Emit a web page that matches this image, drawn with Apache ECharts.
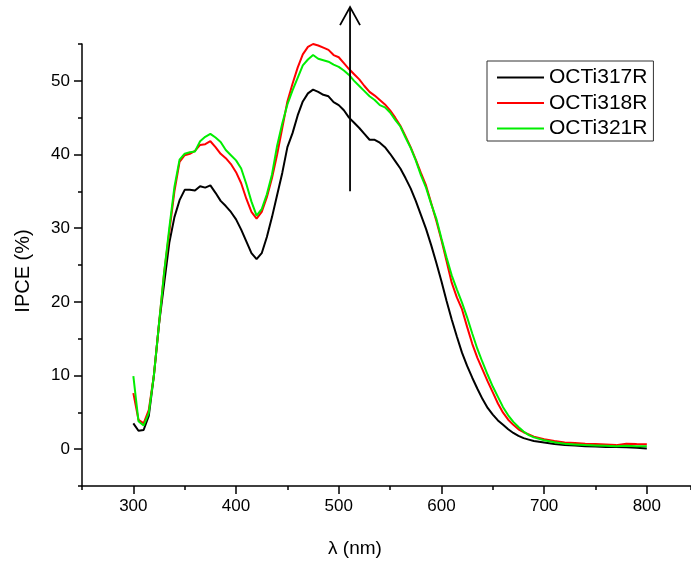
<!DOCTYPE html>
<html>
<head>
<meta charset="utf-8">
<script src="https://cdn.jsdelivr.net/npm/echarts@6/dist/echarts.min.js"></script>
<style>html,body{margin:0;padding:0;background:#fff;}#c{width:691px;height:561px;}</style>
</head>
<body>
<div id="c"></div>
<script>
// wavelength (nm)
const wavelengths = [300,305,310,315,320,325,330,335,340,345,350,355,360,365,370,375,380,385,390,395,400,405,410,415,420,425,430,435,440,445,450,455,460,465,470,475,480,485,490,495,500,505,510,515,520,525,530,535,540,545,550,555,560,565,570,575,580,585,590,595,600,605,610,615,620,625,630,635,640,645,650,655,660,665,670,675,680,685,690,700,710,720,730,740,750,760,770,780,790,800];
const ipce317 = [3.5,2.5,2.6,4.5,10,17,22.5,28,31.5,33.8,35.2,35.2,35.1,35.7,35.5,35.8,34.8,33.7,33.0,32.2,31.2,29.8,28.2,26.6,25.8,26.6,28.8,31.5,34.5,37.5,41,42.9,45.3,47.2,48.3,48.8,48.5,48.1,47.9,47.1,46.7,46.0,45.0,44.3,43.6,42.8,42.0,42.0,41.6,41.0,40.1,39.1,38.1,36.8,35.4,33.7,31.8,29.9,27.7,25.3,22.8,20.1,17.6,15.3,13.1,11.3,9.7,8.2,6.8,5.6,4.7,3.9,3.3,2.7,2.2,1.8,1.5,1.3,1.1,0.9,0.7,0.55,0.5,0.4,0.35,0.3,0.3,0.25,0.2,0.1];
const ipce318 = [7.6,4.0,3.5,5.3,10,17,24,29.5,35,39,39.9,40.1,40.5,41.3,41.4,41.8,41.0,40.1,39.5,38.7,37.6,36.1,34.0,32.2,31.3,32.2,34.2,36.8,40.0,43.6,47.2,49.6,51.8,53.6,54.6,55.0,54.8,54.5,54.2,53.5,53.2,52.4,51.6,50.9,50.2,49.3,48.5,48.0,47.4,46.8,46.0,45.0,43.9,42.5,41.0,39.3,37.5,35.8,33.4,31.0,28.4,25.5,22.6,20.6,19.0,16.6,14.3,12.4,10.8,9.2,7.7,6.2,4.95,4.0,3.3,2.7,2.3,2.0,1.7,1.35,1.1,0.9,0.85,0.75,0.7,0.65,0.55,0.75,0.7,0.68];
const ipce321 = [9.9,3.8,3.2,4.9,10,17,24,30,35.6,39.3,40.1,40.3,40.4,41.8,42.4,42.8,42.3,41.7,40.6,39.9,39.2,38.1,36.0,33.6,31.7,32.6,34.6,37.3,41.2,44.2,46.8,48.7,50.4,52.1,52.9,53.5,53.0,52.8,52.6,52.2,51.9,51.4,50.8,50.0,49.3,48.6,47.9,47.4,46.7,46.4,45.7,44.7,43.8,42.3,40.9,39.2,37.2,35.5,33.3,31.3,28.6,26.0,23.6,21.7,19.9,17.9,15.7,13.6,11.8,10.1,8.5,7.1,5.7,4.6,3.7,3.0,2.4,1.9,1.6,1.2,0.95,0.75,0.65,0.55,0.5,0.45,0.4,0.45,0.4,0.4];
const seriesNames = ['OCTi317R','OCTi318R','OCTi321R'];
const seriesColors = ['#000000','#ff0000','#00ee00'];
const xTickLabels = [300,400,500,600,700,800];
const yTickLabels = [0,10,20,30,40,50];
const arrowX = 511, arrowFrom = 35, arrowTo = 60;

const FONT = '"Liberation Sans", Arial, sans-serif';
const chart = echarts.init(document.getElementById('c'), null, {renderer:'canvas'});
const allY = [ipce317, ipce318, ipce321];
const series = seriesNames.map((n, i) => ({
  name: n, type: 'line', xAxisIndex: 0, yAxisIndex: 0,
  data: wavelengths.map((w, j) => [w, allY[i][j]]),
  symbol: 'none', showSymbol: false, smooth: false,
  lineStyle: {color: seriesColors[i], width: 2},
  itemStyle: {color: seriesColors[i]},
  z: 3 + i
}));
const axLine = {show: true, onZero: false, lineStyle: {color: '#000', width: 1.5}};
chart.setOption({
  animation: false,
  backgroundColor: '#fff',
  grid: {left: 82, right: 0, top: 44, bottom: 75, containLabel: false},
  xAxis: [{
    type: 'value', min: 250, max: 843, position: 'bottom',
    axisLine: axLine,
    axisTick: {show: true, inside: false, length: 8, customValues: xTickLabels, lineStyle: {color: '#000', width: 1.5}},
    axisLabel: {show: true, customValues: xTickLabels, margin: 12, color: '#000', fontSize: 17, fontFamily: FONT},
    splitLine: {show: false}
  }, {
    type: 'value', min: 250, max: 843, interval: 50, position: 'bottom',
    axisLine: {show: false, onZero: false},
    axisTick: {show: true, inside: false, length: 4, lineStyle: {color: '#000', width: 1.5}},
    axisLabel: {show: false}, splitLine: {show: false}
  }],
  yAxis: [{
    type: 'value', min: -5, max: 55, position: 'left',
    axisLine: axLine,
    axisTick: {show: true, inside: false, length: 8, customValues: yTickLabels, lineStyle: {color: '#000', width: 1.5}},
    axisLabel: {show: true, customValues: yTickLabels, margin: 12, color: '#000', fontSize: 17, fontFamily: FONT},
    splitLine: {show: false}
  }, {
    type: 'value', min: -5, max: 55, interval: 5, position: 'left', offset: 0,
    axisLine: {show: false, onZero: false},
    axisTick: {show: true, inside: false, length: 4, lineStyle: {color: '#000', width: 1.5}},
    axisLabel: {show: false}, splitLine: {show: false}
  }],
  legend: {
    show: true,
    orient: 'vertical', left: 487, top: 61,
    data: seriesNames.map(n => ({name: n, icon: 'rect'})),
    itemWidth: 47, itemHeight: 2, itemGap: 4.5,
    padding: [6, 6, 2, 10],
    borderColor: '#333', borderWidth: 1, backgroundColor: '#fff',
    textStyle: {color: '#000', fontSize: 21, fontFamily: FONT}
  },
  series: series
});

const tip = chart.convertToPixel({xAxisIndex: 0, yAxisIndex: 0}, [arrowX, arrowTo]);
const base = chart.convertToPixel({xAxisIndex: 0, yAxisIndex: 0}, [arrowX, arrowFrom]);
chart.setOption({
  graphic: [
    {type: 'line', shape: {x1: base[0], y1: base[1], x2: tip[0], y2: tip[1]}, style: {stroke: '#000', lineWidth: 1.8}, z: 10},
    {type: 'polyline', shape: {points: [[tip[0]-10, tip[1]+18], [tip[0], tip[1]], [tip[0]+10, tip[1]+18]]}, style: {stroke: '#000', lineWidth: 1.8, fill: null}, z: 10},
    {type: 'text', x: 355, y: 549, style: {text: 'λ (nm)', fill: '#000', font: '19px ' + FONT, textAlign: 'center', textVerticalAlign: 'middle'}},
    {type: 'text', x: 23, y: 271, rotation: Math.PI / 2, style: {text: 'IPCE (%)', fill: '#000', font: '20px ' + FONT, textAlign: 'center', textVerticalAlign: 'middle'}}
  ]
});
</script>
</body>
</html>
